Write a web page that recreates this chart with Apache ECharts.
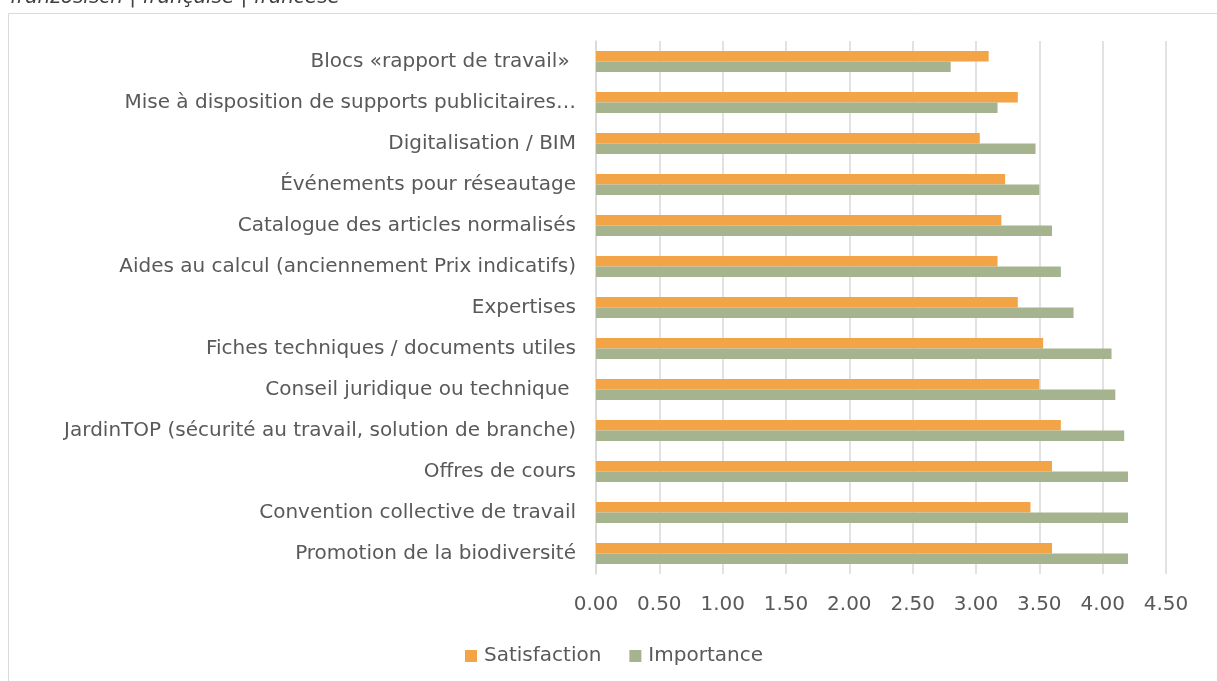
<!DOCTYPE html>
<html>
<head>
<meta charset="utf-8">
<script src="https://cdn.jsdelivr.net/npm/echarts@6/dist/echarts.min.js"></script>
<style>
  html, body { margin: 0; padding: 0; background: #fff; }
  #chart { width: 1217px; height: 681px; }
</style>
</head>
<body>
<div id="chart"></div>
<script>
// categories, top to bottom
const categories = [
  'Blocs «rapport de travail» ',
  'Mise à disposition de supports publicitaires…',
  'Digitalisation / BIM',
  'Événements pour réseautage',
  'Catalogue des articles normalisés',
  'Aides au calcul (anciennement Prix indicatifs)',
  'Expertises',
  'Fiches techniques / documents utiles',
  'Conseil juridique ou technique ',
  'JardinTOP (sécurité au travail, solution de branche)',
  'Offres de cours',
  'Convention collective de travail',
  'Promotion de la biodiversité'
]
const satisfaction = [3.10, 3.33, 3.03, 3.23, 3.20, 3.17, 3.33, 3.53, 3.50, 3.67, 3.60, 3.43, 3.60]
const importance   = [2.80, 3.17, 3.47, 3.50, 3.60, 3.67, 3.77, 4.07, 4.10, 4.17, 4.20, 4.20, 4.20]
const seriesNames = ['Satisfaction', 'Importance']

const chart = echarts.init(document.getElementById('chart'))
const font = "'DejaVu Sans', 'Liberation Sans', Arial, sans-serif"

chart.setOption({
  animation: false,
  textStyle: { fontFamily: font },
  graphic: [
    {
      type: 'rect',
      shape: { x: 8.5, y: 13.5, width: 1240, height: 700 },
      style: { fill: 'none', stroke: '#d9d9d9', lineWidth: 1 },
      silent: true
    },
    {
      type: 'text',
      left: 10,
      top: -12,
      style: {
        text: 'französisch | française | francese',
        font: "italic 20px 'DejaVu Sans', sans-serif",
        fill: '#404040'
      }
    }
  ],
  legend: {
    data: seriesNames,
    bottom: 10,
    left: 460,
    itemWidth: 12,
    itemHeight: 12,
    itemGap: 28,
    icon: 'rect',
    textStyle: { fontSize: 20, color: '#595959', fontFamily: font, padding: [0, 0, 0, 2] }
  },
  grid: { left: 596, right: 51, top: 41, bottom: 107, containLabel: false },
  xAxis: {
    type: 'value',
    min: 0,
    max: 4.5,
    interval: 0.5,
    axisLine: { show: false },
    axisTick: { show: false },
    axisLabel: {
      fontSize: 20,
      color: '#595959',
      margin: 21,
      formatter: v => v.toFixed(2)
    },
    splitLine: { lineStyle: { color: '#d9d9d9', width: 1.5 } }
  },
  yAxis: {
    type: 'category',
    data: categories,
    inverse: true,
    axisLine: { lineStyle: { color: '#d9d9d9', width: 1.5 } },
    axisTick: { show: false },
    axisLabel: { fontSize: 20, color: '#595959', margin: 20 }
  },
  series: [
    {
      name: seriesNames[0],
      type: 'bar',
      data: satisfaction,
      itemStyle: { color: '#F2A447' },
      barGap: '0%',
      barCategoryGap: '49%'
    },
    {
      name: seriesNames[1],
      type: 'bar',
      data: importance,
      itemStyle: { color: '#A5B38F' },
      barGap: '0%',
      barCategoryGap: '49%'
    }
  ]
})
</script>
</body>
</html>
